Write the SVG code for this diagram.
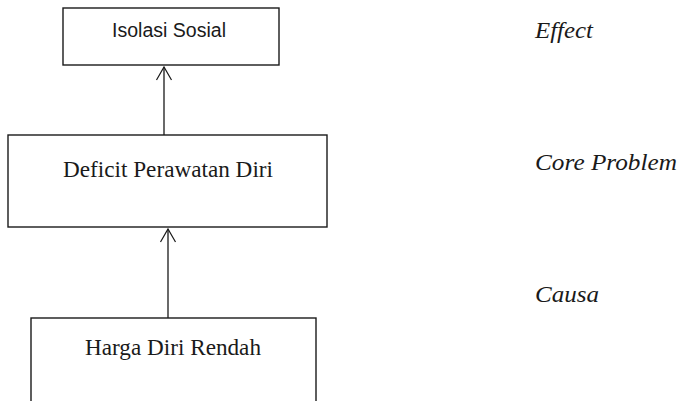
<svg xmlns="http://www.w3.org/2000/svg" width="682" height="401" viewBox="0 0 682 401">
<defs>
<style>
.box{fill:#fff;stroke:#1a1a1a;stroke-width:1.4}
.sans{font-family:"Liberation Sans",Arial,sans-serif;font-size:19.5px;fill:#1a1a1a}
.serif{font-family:"Liberation Serif","Times New Roman",serif;font-size:22.5px;fill:#1a1a1a}
.lbl{font-family:"Liberation Serif","Times New Roman",serif;font-style:italic;font-size:23px;fill:#1a1a1a}
.conn{stroke:#1a1a1a;stroke-width:1.3;fill:none}
</style>
<marker id="arr" viewBox="-15 -10 20 20" refX="0" refY="0" markerWidth="20" markerHeight="20" markerUnits="userSpaceOnUse" orient="auto">
<path d="M-13,-7.5 L0,0 L-13,7.5" fill="none" stroke="#1a1a1a" stroke-width="1.2"/>
</marker>
</defs>
<rect width="682" height="401" fill="#fff"/>
<g id="connectors">
<line class="conn" x1="164" y1="135" x2="164" y2="67" marker-end="url(#arr)"/>
<line class="conn" x1="168" y1="318" x2="168" y2="229" marker-end="url(#arr)"/>
</g>
<g id="isolasi">
<rect class="box" x="63" y="8" width="216" height="57"/>
<text class="sans" x="169" y="37" text-anchor="middle" textLength="114" lengthAdjust="spacingAndGlyphs">Isolasi Sosial</text>
</g>
<g id="deficit">
<rect class="box" x="8" y="135" width="319" height="92"/>
<text class="serif" x="168" y="177" text-anchor="middle" textLength="210" lengthAdjust="spacingAndGlyphs">Deficit Perawatan Diri</text>
</g>
<g id="harga">
<rect class="box" x="31" y="318" width="285" height="100"/>
<text class="serif" x="173" y="355" text-anchor="middle" textLength="176" lengthAdjust="spacingAndGlyphs">Harga Diri Rendah</text>
</g>
<g id="labels">
<text class="lbl" x="535" y="38" textLength="58" lengthAdjust="spacingAndGlyphs">Effect</text>
<text class="lbl" x="535" y="170" textLength="142" lengthAdjust="spacingAndGlyphs">Core Problem</text>
<text class="lbl" x="535" y="302" textLength="64" lengthAdjust="spacingAndGlyphs">Causa</text>
</g>
</svg>
